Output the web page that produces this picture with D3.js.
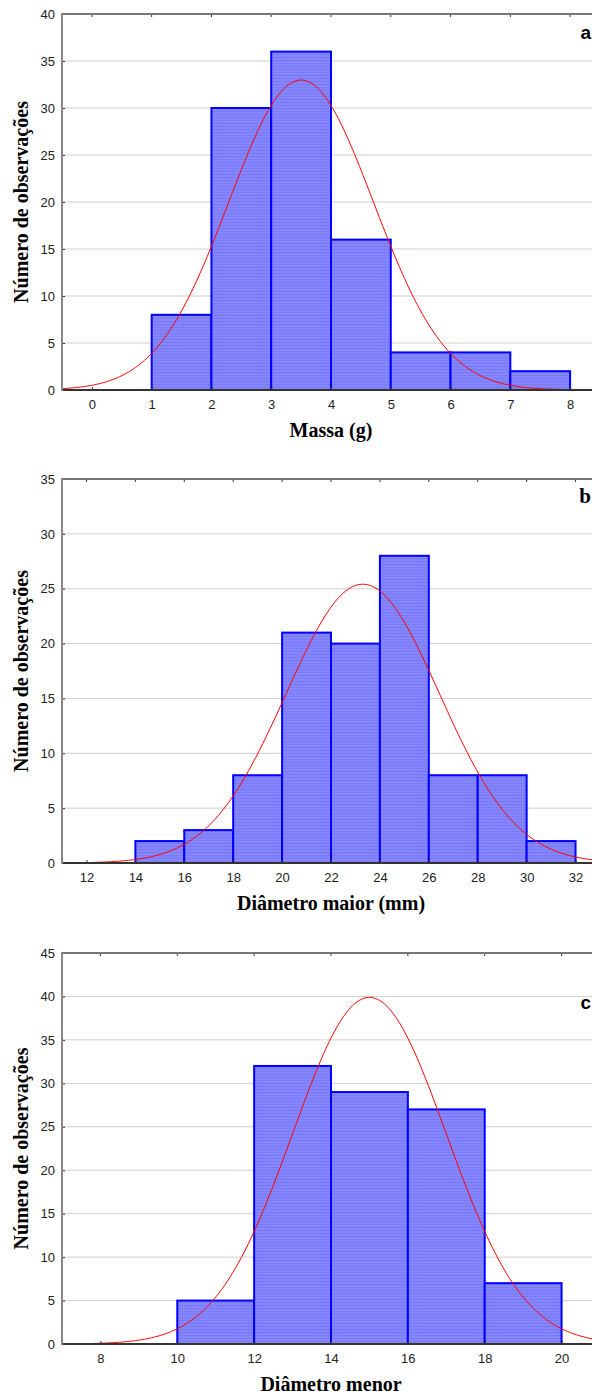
<!DOCTYPE html>
<html>
<head>
<meta charset="utf-8">
<script src="https://cdn.jsdelivr.net/npm/d3@7"></script>
<style>
	body { margin: 0; background: #fff; }
	svg { display: block; }
	.tick text { font-family: "Liberation Sans", Arial, sans-serif; font-size: 13px; fill: #222; }
	.title { font-family: "Liberation Serif", "Times New Roman", serif; font-weight: bold; font-size: 20px; fill: #000; }
</style>
</head>
<body>
<div id="chart"></div>
<script>
// panel a - massa
var massaEdges = [1, 2, 3, 4, 5, 6, 7, 8];
var massaCounts = [8, 30, 36, 16, 4, 4, 2];
var massaTicks = [0, 1, 2, 3, 4, 5, 6, 7, 8];
var massaYTicks = [0, 5, 10, 15, 20, 25, 30, 35, 40];
var massaFit = [3.5, 1.21]; // mean, sd

// panel b - diametro maior
var maiorEdges = [14, 16, 18, 20, 22, 24, 26, 28, 30, 32];
var maiorCounts = [2, 3, 8, 21, 20, 28, 8, 8, 2];
var maiorTicks = [12, 14, 16, 18, 20, 22, 24, 26, 28, 30, 32];
var maiorYTicks = [0, 5, 10, 15, 20, 25, 30, 35];
var maiorFit = [23.3, 3.14];

// panel c - diametro menor
var menorEdges = [10, 12, 14, 16, 18, 20];
var menorCounts = [5, 32, 29, 27, 7];
var menorTicks = [8, 10, 12, 14, 16, 18, 20];
var menorYTicks = [0, 5, 10, 15, 20, 25, 30, 35, 40, 45];
var menorFit = [15, 2.0];

var width = 592, height = 1398;
var svg = d3.select("#chart").append("svg")
	.attr("width", width)
	.attr("height", height);

var defs = svg.append("defs");
var pat = defs.append("pattern")
	.attr("id", "stripes")
	.attr("patternUnits", "userSpaceOnUse")
	.attr("width", 4)
	.attr("height", 3);
pat.append("rect").attr("width", 4).attr("height", 3).attr("fill", "#8585ff");
pat.append("rect").attr("width", 4).attr("height", 1).attr("fill", "#7a7af5");

function drawPanel(cfg) {
	var x = d3.scaleLinear().domain(cfg.xDomain).range([62, 600]);
	var y = d3.scaleLinear().domain([0, cfg.yMax]).range([cfg.bottom, cfg.top]);
	var g = svg.append("g");

	// gridlines
	g.selectAll("line.grid")
		.data(cfg.yTicks.filter(d => d > 0 && d < cfg.yMax))
		.enter().append("line")
		.attr("x1", x.range()[0]).attr("x2", x.range()[1])
		.attr("y1", d => y(d)).attr("y2", d => y(d))
		.attr("stroke", "#cfcfcf")
		.attr("stroke-width", 1);

	// bars
	var bins = cfg.counts.map((c, i) => ({x0: cfg.edges[i], x1: cfg.edges[i + 1], n: c}));
	g.selectAll("rect.bar")
		.data(bins)
		.enter().append("rect")
		.attr("x", d => x(d.x0))
		.attr("y", d => y(d.n))
		.attr("width", d => x(d.x1) - x(d.x0))
		.attr("height", d => y(0) - y(d.n))
		.attr("fill", "url(#stripes)")
		.attr("stroke", "#0000ff")
		.attr("stroke-width", 2);

	// fitted normal curve
	var n = d3.sum(cfg.counts);
	var w = cfg.edges[1] - cfg.edges[0];
	var mu = cfg.fit[0], sd = cfg.fit[1];
	var xs = d3.range(0, 301).map(i => cfg.xDomain[0] + (cfg.xDomain[1] - cfg.xDomain[0]) * i / 300);
	var line = d3.line()
		.x(d => x(d))
		.y(d => y(n * w * Math.exp(-0.5 * Math.pow((d - mu) / sd, 2)) / (sd * Math.sqrt(2 * Math.PI))));
	g.append("path")
		.datum(xs)
		.attr("d", line)
		.attr("fill", "none")
		.attr("stroke", "#ff0000")
		.attr("stroke-width", 1);

	// axes
	var yAxis = g.append("g")
		.attr("transform", `translate(${x.range()[0]},0)`)
		.call(d3.axisLeft(y).tickValues(cfg.yTicks).tickSize(-3).tickPadding(7));
	yAxis.select(".domain").remove();
	yAxis.selectAll(".tick line").attr("stroke", "#333");

	var xAxis = g.append("g")
		.attr("transform", `translate(0,${cfg.bottom})`)
		.call(d3.axisBottom(x).tickValues(cfg.xTicks).tickSize(-3).tickPadding(10));
	xAxis.select(".domain").remove();
	xAxis.selectAll(".tick line").attr("stroke", "#333");

	// top tick marks
	g.selectAll("line.toptick")
		.data(cfg.xTicks)
		.enter().append("line")
		.attr("x1", d => x(d)).attr("x2", d => x(d))
		.attr("y1", cfg.top).attr("y2", cfg.top + 3)
		.attr("stroke", "#333");

	// frame
	g.append("line")
		.attr("x1", x.range()[0]).attr("x2", x.range()[1])
		.attr("y1", cfg.top).attr("y2", cfg.top)
		.attr("stroke", "#777").attr("stroke-width", 2);
	g.append("line")
		.attr("x1", x.range()[0]).attr("x2", x.range()[1])
		.attr("y1", cfg.bottom).attr("y2", cfg.bottom)
		.attr("stroke", "#333").attr("stroke-width", 2);
	g.append("line")
		.attr("x1", x.range()[0]).attr("x2", x.range()[0])
		.attr("y1", cfg.top - 1).attr("y2", cfg.bottom + 1)
		.attr("stroke", "#888").attr("stroke-width", 2);

	// titles
	g.append("text")
		.attr("class", "title")
		.attr("text-anchor", "middle")
		.attr("transform", `translate(28,${(cfg.top + cfg.bottom) / 2}) rotate(-90)`)
		.text("Número de observações");
	g.append("text")
		.attr("class", "title")
		.attr("text-anchor", "middle")
		.attr("x", (x.range()[0] + x.range()[1]) / 2)
		.attr("y", cfg.bottom + 47)
		.text(cfg.xTitle);
	g.append("text")
		.attr("x", 591)
		.attr("y", cfg.top + cfg.labelDy)
		.attr("text-anchor", "end")
		.style("font-family", cfg.labelSerif ? "'Liberation Serif', serif" : "'Liberation Sans', Arial, sans-serif")
		.style("font-weight", "bold")
		.style("font-size", cfg.labelSerif ? "21px" : "19px")
		.text(cfg.label);
}

drawPanel({edges: massaEdges, counts: massaCounts, xTicks: massaTicks, yTicks: massaYTicks, fit: massaFit,
	xDomain: [-0.5, 8.5], yMax: 40, top: 14, bottom: 390, xTitle: "Massa (g)", label: "a", labelDy: 25});
drawPanel({edges: maiorEdges, counts: maiorCounts, xTicks: maiorTicks, yTicks: maiorYTicks, fit: maiorFit,
	xDomain: [11, 33], yMax: 35, top: 479, bottom: 863, xTitle: "Diâmetro maior (mm)", label: "b", labelSerif: true, labelDy: 24});
drawPanel({edges: menorEdges, counts: menorCounts, xTicks: menorTicks, yTicks: menorYTicks, fit: menorFit,
	xDomain: [7, 21], yMax: 45, top: 953, bottom: 1344, xTitle: "Diâmetro menor", label: "c", labelDy: 56});
</script>
</body>
</html>
